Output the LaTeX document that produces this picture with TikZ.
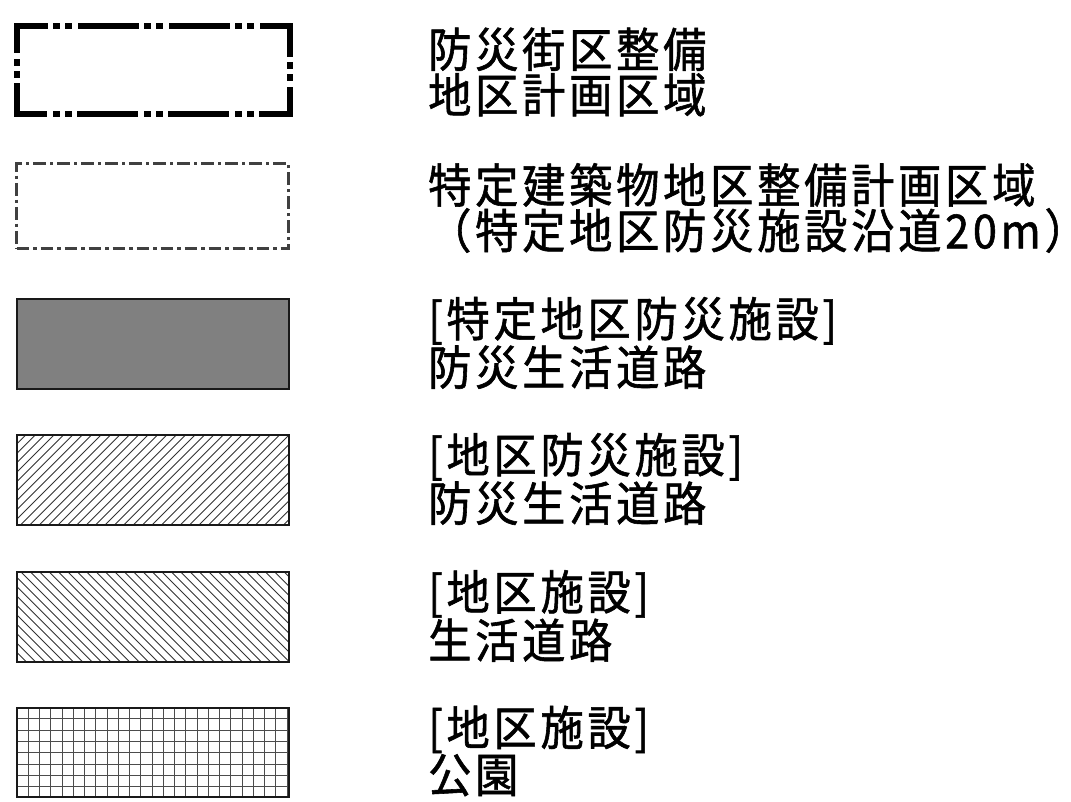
\documentclass[tikz,border=0pt]{standalone}
\usepackage{fontspec}
\newfontfamily\legfont[FakeStretch=0.92,LetterSpace=8,FakeBold=1.2]{Noto Sans CJK JP}
\newcommand\legsize{\fontsize{47pt}{45.5pt}\selectfont}
\begin{document}
\begin{tikzpicture}[x=1pt,y=-1pt,
    legbox/.style={minimum width=272pt,minimum height=90pt,inner sep=0pt,outer sep=0pt,anchor=west},
    boxline/.style={draw=black!90,line width=2pt},
    thickdash/.style={line width=6pt,line cap=rect,
        dash pattern=on 55pt off 11pt on 1pt off 11pt on 1pt off 12pt,dash phase=27pt},
    thindash/.style={draw=black!75,line width=3pt,
        dash pattern=on 12.7pt off 4pt on 3.3pt off 4pt},
    hatchline/.style={black!80,line width=0.9pt},
    gridline/.style={black!70,line width=1pt},
    legtext/.style={anchor=west,align=left,inner sep=0pt,font=\legfont\legsize}]
    \useasboundingbox (0,0) rectangle (1071,802);

    % Legend boxes
    \node[legbox,minimum width=273pt,minimum height=88pt] (b1) at (17,70) {};
    \draw[thickdash] (b1.north west) -- (b1.north east);
    \draw[thickdash] (b1.north east) -- (b1.south east);
    \draw[thickdash] (b1.south east) -- (b1.south west);
    \draw[thickdash] (b1.south west) -- (b1.north west);

    \node[legbox,thindash,minimum height=85pt] (b2) at (16.5,206.5) {};

    \node[legbox,boxline,fill=black!50] (b3) at (17,344) {};

    % Hatched boxes
    \node[legbox] (b4) at (17,480) {};
    \begin{scope}
        \clip (b4.south west) rectangle (b4.north east);
        \foreach \k in {0,...,40} {
            \draw[hatchline] ([xshift=\k*9.4pt-100pt]b4.south west) -- ++(100,-100);
        }
    \end{scope}
    \draw[boxline] (b4.south west) rectangle (b4.north east);

    \node[legbox] (b5) at (17,617) {};
    \begin{scope}
        \clip (b5.south west) rectangle (b5.north east);
        \foreach \k in {0,...,40} {
            \draw[hatchline] ([xshift=\k*9.4pt]b5.south west) -- ++(-100,-100);
        }
    \end{scope}
    \draw[boxline] (b5.south west) rectangle (b5.north east);

    % Grid box
    \node[legbox,minimum height=89pt] (b6) at (17,752) {};
    \foreach \k in {1,...,24} {
        \draw[gridline] ([xshift=\k*11.25pt]b6.north west) -- ([xshift=\k*11.25pt]b6.south west);
    }
    \foreach \k in {1,...,7} {
        \draw[gridline] ([yshift=-\k*11.3pt]b6.north west) -- ([yshift=-\k*11.3pt]b6.north east);
    }
    \draw[boxline] (b6.south west) rectangle (b6.north east);

    % Legend texts
    \node[legtext] (t1) at (428,72) {防災街区整備\\地区計画区域};
    \node[legtext] (t2) at (428,208) {特定建築物地区整備計画区域\\（特定地区防災施設沿道20m）};
    \node[legtext] (t3) at (428,343) {[特定地区防災施設]\\防災生活道路};
    \node[legtext] (t4) at (428,479) {[地区防災施設]\\防災生活道路};
    \node[legtext] (t5) at (428,616) {[地区施設]\\生活道路};
    \node[legtext] (t6) at (428,751) {[地区施設]\\公園};
\end{tikzpicture}
\end{document}
